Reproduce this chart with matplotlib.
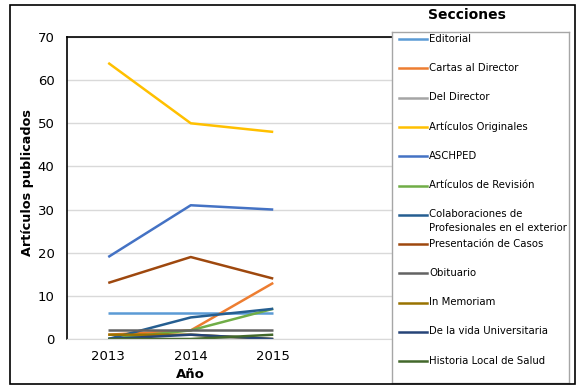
import matplotlib
matplotlib.use("Agg")
import matplotlib.pyplot as plt
from matplotlib.lines import Line2D
from matplotlib.patches import Rectangle

years = ["2013", "2014", "2015"]
sections = [
    "Editorial",
    "Cartas al Director",
    "Del Director",
    "Artículos Originales",
    "ASCHPED",
    "Artículos de Revisión",
    "Colaboraciones de\nProfesionales en el exterior",
    "Presentación de Casos",
    "Obituario",
    "In Memoriam",
    "De la vida Universitaria",
    "Historia Local de Salud",
]
values = [
    [6, 6, 6],
    [1, 2, 13],
    [0, 0, 0],
    [64, 50, 48],
    [19, 31, 30],
    [0, 2, 7],
    [0, 5, 7],
    [13, 19, 14],
    [2, 2, 2],
    [1, 1, 0],
    [0, 1, 0],
    [0, 0, 1],
]
colors = [
    "#5B9BD5", "#ED7D31", "#A5A5A5", "#FFC000", "#4472C4", "#70AD47",
    "#255E91", "#9E480E", "#636363", "#997300", "#264478", "#43682B",
]

W, H = 584, 390
fig = plt.figure(figsize=(W / 100, H / 100), dpi=100)

# outer chart frame
fig.patches.append(Rectangle((10 / W, 1 - 384 / H), 565 / W, 379 / H,
                             transform=fig.transFigure, fill=False,
                             edgecolor="black", linewidth=1.2))

ax = fig.add_axes([67 / W, 1 - 339 / H, 330 / W, 302 / H])
x = list(range(len(years)))
for vals, c in zip(values, colors):
    ax.plot(x, vals, color=c, linewidth=1.8, solid_capstyle="butt")

ax.set_xlim(-0.5, 3.5)
ax.set_ylim(0, 70)
ax.set_yticks(range(0, 71, 10))
ax.set_xticks(x)
ax.set_xticklabels(years)
ax.tick_params(length=0, labelsize=9.5, pad=8)
ax.tick_params(axis="y", pad=9)
ax.grid(axis="y", color="#D9D9D9", linewidth=1)
ax.set_axisbelow(True)
for s in ("left", "top"):
    ax.spines[s].set_color("black")
    ax.spines[s].set_linewidth(1.2)
ax.spines["bottom"].set_color("#D9D9D9")
ax.spines["right"].set_visible(False)

fig.text(27 / W, 1 - 183 / H, "Artículos publicados", rotation=90,
         ha="center", va="center", fontsize=9.2, fontweight="bold")
fig.text(190 / W, 1 - 375 / H, "Año", ha="center", va="center",
         fontsize=9.5, fontweight="bold")
fig.text(467 / W, 1 - 15 / H, "Secciones", ha="center", va="center",
         fontsize=10, fontweight="bold")

# legend box drawn by hand so the even Excel spacing is kept
lax = fig.add_axes([392 / W, 1 - 383 / H, 177 / W, 351 / H])
lax.set_xlim(392, 569)
lax.set_ylim(383, 32)
lax.set_facecolor("white")
lax.set_xticks([])
lax.set_yticks([])
for s in lax.spines.values():
    s.set_color("#A6A6A6")
    s.set_linewidth(1)
for i, (name, c) in enumerate(zip(sections, colors)):
    y = 39 + i * 29.3
    lax.add_line(Line2D([399, 427], [y, y], color=c, linewidth=1.8))
    lax.text(429, y - 5.5, name, ha="left", va="top", fontsize=7.3,
             linespacing=1.45)

fig.savefig("out.png", dpi=100)
